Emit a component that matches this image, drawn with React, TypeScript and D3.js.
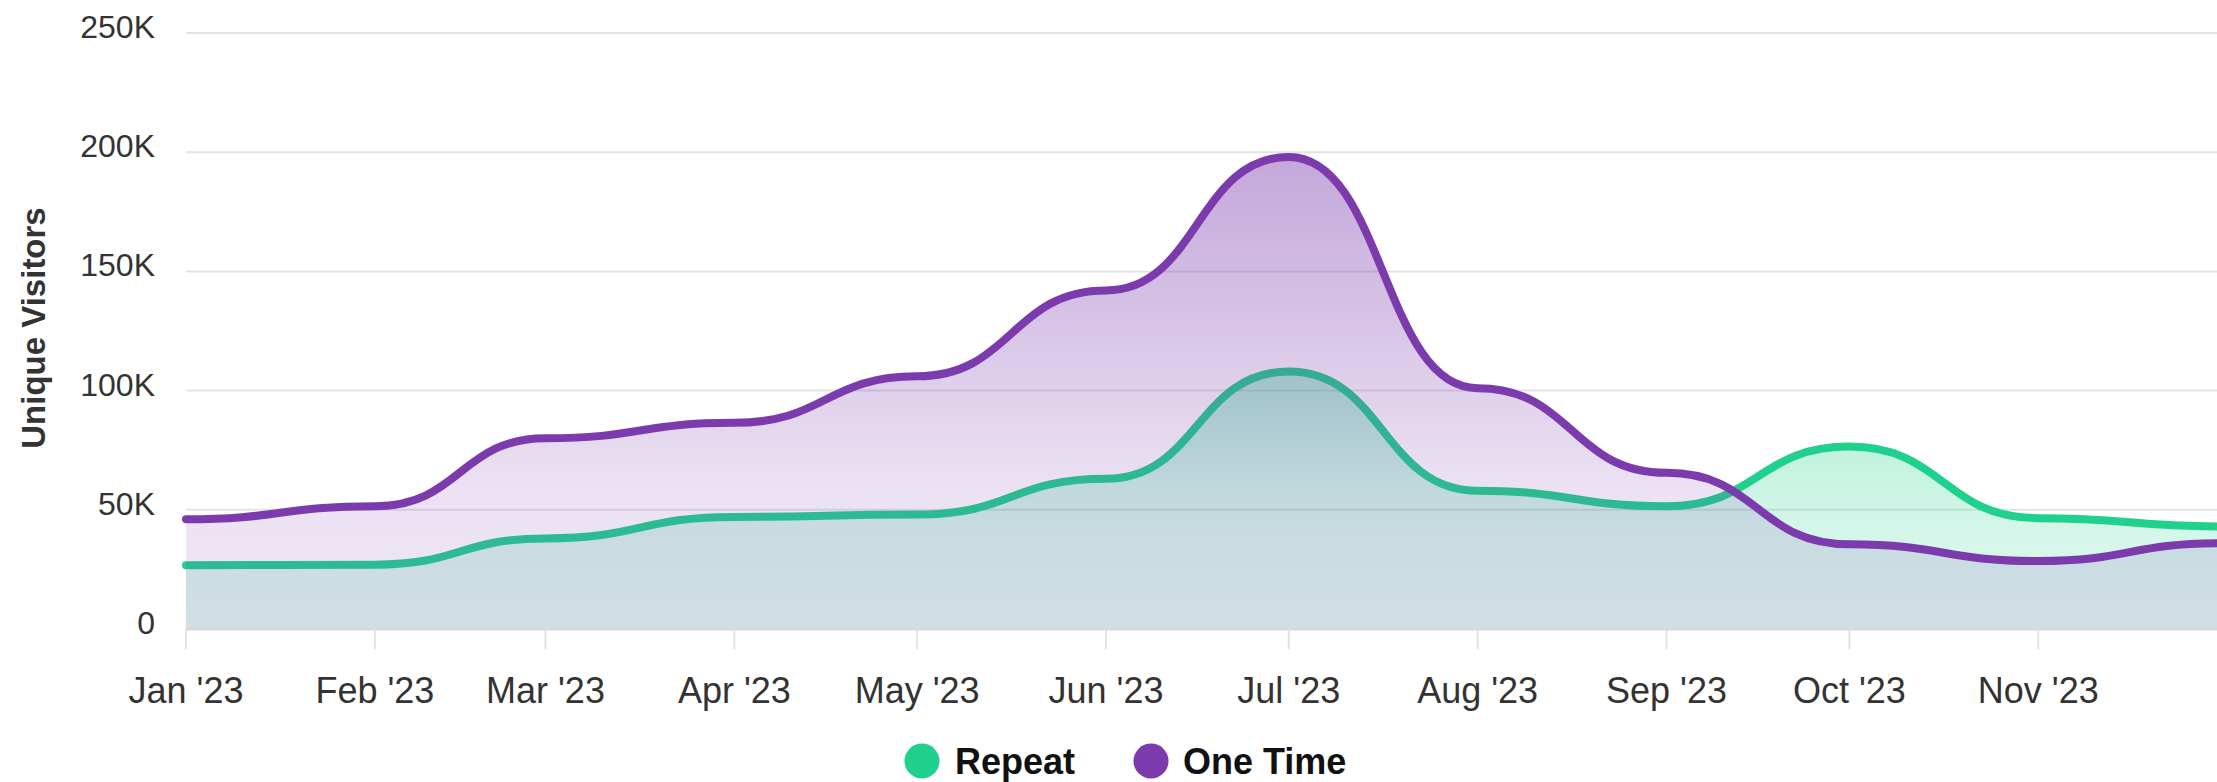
import React from "react";
import * as d3 from "d3";

const monthDates: Date[] = [
  new Date(2023, 0, 1), new Date(2023, 1, 1), new Date(2023, 2, 1), new Date(2023, 3, 1),
  new Date(2023, 4, 1), new Date(2023, 5, 1), new Date(2023, 6, 1), new Date(2023, 7, 1),
  new Date(2023, 8, 1), new Date(2023, 9, 1), new Date(2023, 10, 1), new Date(2023, 11, 1),
];
const repeatValues: number[] = [26700, 27000, 38000, 47000, 48000, 63000, 108000, 58000, 51500, 76500, 46500, 43000];
const oneTimeValues: number[] = [46000, 51500, 80000, 86500, 106000, 142000, 198000, 101000, 65500, 35500, 28500, 36000];
const xTickLabels: string[] = ["Jan '23", "Feb '23", "Mar '23", "Apr '23", "May '23", "Jun '23", "Jul '23", "Aug '23", "Sep '23", "Oct '23", "Nov '23"];
const yTickValues: number[] = [0, 50000, 100000, 150000, 200000, 250000];
const seriesNames: string[] = ["Repeat", "One Time"];
const seriesColors: string[] = ["#1fd08e", "#7b3bad"];

const W = 2217;
const H = 782;
const FONT = "'Liberation Sans', Arial, Helvetica, sans-serif";

export default function App() {
  const x = d3.scaleTime().domain([monthDates[0], monthDates[11]]).range([186, 2221]);
  const y = d3.scaleLinear().domain([0, 250000]).range([629, 33]);

  const series = [repeatValues, oneTimeValues].map((vals, si) => {
    const pts = vals.map((v, i) => ({ d: monthDates[i], v }));
    const area = d3.area<any>().x((p) => x(p.d)).y0(y(0)).y1((p) => y(p.v)).curve(d3.curveBumpX)(pts) || "";
    const line = d3.line<any>().x((p) => x(p.d)).y((p) => y(p.v)).curve(d3.curveBumpX)(pts) || "";
    return { area, line };
  });

  const fmt = (v: number) => (v === 0 ? "0" : `${v / 1000}K`);

  return (
    <svg width={W} height={H} style={{ position: "absolute", left: 0, top: 0, background: "#fff" }} fontFamily={FONT}>
      <defs>
        <linearGradient id="gRepeat" x1="0" y1="0" x2="0" y2="1">
          <stop offset="0" stopColor={seriesColors[0]} stopOpacity={0.36} />
          <stop offset="0.6" stopColor={seriesColors[0]} stopOpacity={0.19} />
          <stop offset="1" stopColor={seriesColors[0]} stopOpacity={0.15} />
        </linearGradient>
        <linearGradient id="gOne" x1="0" y1="0" x2="0" y2="1">
          <stop offset="0" stopColor={seriesColors[1]} stopOpacity={0.45} />
          <stop offset="0.7" stopColor={seriesColors[1]} stopOpacity={0.15} />
          <stop offset="1" stopColor={seriesColors[1]} stopOpacity={0.13} />
        </linearGradient>
      </defs>

      {yTickValues.map((v) => (
        <line key={"g" + v} x1={186} x2={W} y1={y(v)} y2={y(v)} stroke="#e3e3e3" strokeWidth={2} />
      ))}

      {yTickValues.map((v) => (
        <text key={"yl" + v} x={155} y={y(v) + 5} textAnchor="end" fontSize={32} fill="#333">
          {fmt(v)}
        </text>
      ))}

      <text transform={`translate(45,328) rotate(-90)`} textAnchor="middle" fontSize={33} fontWeight="bold" fill="#333">
        Unique Visitors
      </text>

      <path d={series[0].area} fill="url(#gRepeat)" />
      <path d={series[0].line} fill="none" stroke={seriesColors[0]} strokeWidth={8} strokeLinecap="round" strokeLinejoin="round" />
      <path d={series[1].area} fill="url(#gOne)" />
      <path d={series[1].line} fill="none" stroke={seriesColors[1]} strokeWidth={8} strokeLinecap="round" strokeLinejoin="round" />

      <line x1={186} x2={W} y1={y(0)} y2={y(0)} stroke="#d5d9de" strokeWidth={3} />

      {xTickLabels.map((lab, i) => (
        <g key={"xt" + i}>
          <line x1={x(monthDates[i])} x2={x(monthDates[i])} y1={y(0) + 1} y2={y(0) + 20} stroke="#e2e2e2" strokeWidth={2} />
          <text x={x(monthDates[i])} y={703} textAnchor="middle" fontSize={36} fill="#333">
            {lab}
          </text>
        </g>
      ))}

      <circle cx={922} cy={761} r={17.5} fill={seriesColors[0]} />
      <text x={955} y={774} fontSize={36} fontWeight="bold" fill="#111">{seriesNames[0]}</text>
      <circle cx={1151} cy={761} r={17.5} fill={seriesColors[1]} />
      <text x={1183} y={774} fontSize={36} fontWeight="bold" fill="#111">{seriesNames[1]}</text>
    </svg>
  );
}
